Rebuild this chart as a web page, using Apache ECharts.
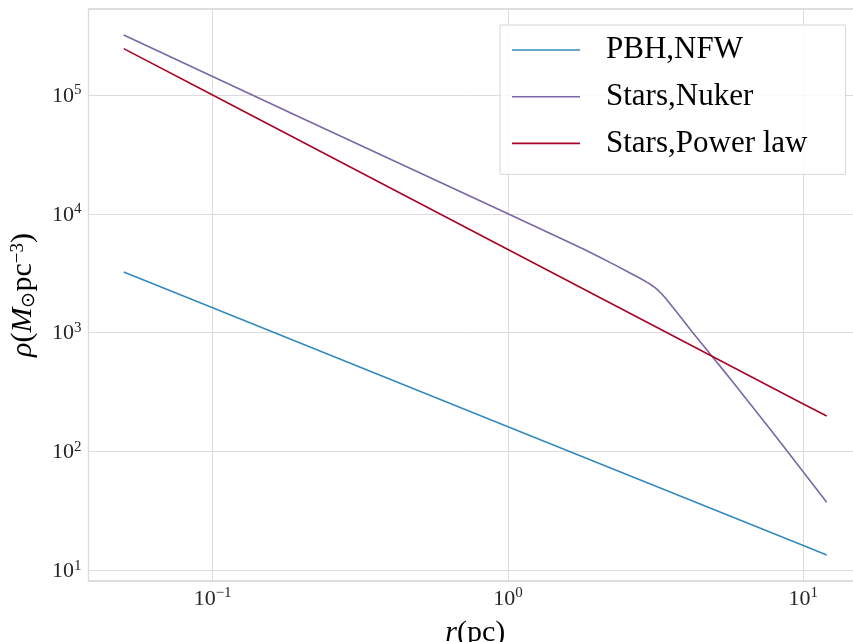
<!DOCTYPE html>
<html>
<head>
<meta charset="utf-8">
<script src="https://cdn.jsdelivr.net/npm/echarts@6/dist/echarts.min.js"></script>
<style>
html, body { margin: 0; padding: 0; background: #fff; }
#chart { width: 853px; height: 642px; }
</style>
</head>
<body>
<div id="chart"></div>
<script>
// series names and colours (bmh palette)
const seriesNames = ['PBH,NFW', 'Stars,Nuker', 'Stars,Power law'];
const seriesColors = ['#348ABD', '#7A68A6', '#A60628'];

// r (pc) and rho (Msun pc^-3)
const pbhR = [0.05, 0.1, 1, 10, 12];
const pbhRho = [3230, 1615, 161, 16.1, 13.4];

const nukerR = [0.05, 0.1, 0.2, 0.5, 1, 1.5, 1.8, 2.0, 2.3, 2.6, 2.8, 3.0, 3.1, 3.2, 3.3, 3.4, 3.65, 3.9, 4.2, 4.6, 5.0, 5.4, 5.8, 6.4, 7.0, 8.0, 8.8, 10, 12];
const nukerRho = [3.2e5, 1.43e5, 6.4e4, 2.23e4, 1.0e4, 6250, 5050, 4425, 3715, 3160, 2865, 2595, 2455, 2307, 2142, 1975, 1585, 1290, 1016, 769, 597, 471, 378, 277, 209, 137, 101, 67, 37.2];

const plawR = [0.05, 0.1, 1, 10, 12];
const plawRho = [2.46e5, 1.0e5, 5.0e3, 250, 198];

const SERIF = 'Liberation Serif';

function pairs(xs, ys) {
    return xs.map((x, i) => [x, ys[i]]);
}

function powLabel(v) {
    const e = Math.round(Math.log10(v));
    return '{b|10}{sup|' + String(e).replace('-', '\u2212') + '}';
}

const tickRich = {
    b: { fontFamily: SERIF, fontSize: 22, color: '#262626', verticalAlign: 'bottom', lineHeight: 24 },
    sup: { fontFamily: SERIF, fontSize: 15, verticalAlign: 'top', lineHeight: 24, padding: [0, 0, 12, 0], color: '#262626' }
};

const chart = echarts.init(document.getElementById('chart'));

const lines = [pairs(pbhR, pbhRho), pairs(nukerR, nukerRho), pairs(plawR, plawRho)];

chart.setOption({
    animation: false,
    backgroundColor: '#fff',
    grid: {
        left: 88.5, right: -9, top: 9, bottom: 61,
        outerBoundsMode: 'none',
        containLabel: false,
        show: true, borderColor: '#bdbdbd', borderWidth: 1.2, backgroundColor: 'transparent'
    },
    legend: {
        orient: 'vertical',
        left: 500, top: 25,
        padding: [8, 38, 14, 12],
        icon: 'rect',
        itemWidth: 68, itemHeight: 1.6, itemGap: 12.7,
        backgroundColor: 'rgba(255,255,255,0.85)',
        borderColor: '#d6d6d6', borderWidth: 1, borderRadius: 0,
        data: seriesNames,
        textStyle: { fontFamily: SERIF, fontSize: 31, color: '#000', lineHeight: 34, padding: [0, 0, 0, 21] }
    },
    xAxis: {
        type: 'log', logBase: 10,
        min: 0.038, max: 15.8,
        name: '{i|r}{n|(pc)}',
        nameLocation: 'middle', nameGap: 34,
        nameTextStyle: {
            rich: {
                i: { fontFamily: SERIF, fontStyle: 'italic', fontSize: 30, color: '#000' },
                n: { fontFamily: SERIF, fontSize: 30, color: '#000' }
            }
        },
        axisLine: { show: false },
        axisTick: { show: false },
        minorTick: { show: false },
        splitLine: { show: true, lineStyle: { color: '#dcdcdc', width: 1 } },
        axisLabel: {
            showMinLabel: false, showMaxLabel: false,
            margin: 5,
            formatter: powLabel,
            rich: tickRich
        }
    },
    yAxis: {
        type: 'log', logBase: 10,
        min: 8.09, max: 5.3e5,
        name: '{i|\u03C1}{n|(}{i|M}{sub|\u2299}{n|pc}{sup|\u22123}{n|)}',
        nameLocation: 'middle', nameGap: 50, nameRotate: 90,
        nameTextStyle: {
            rich: {
                i: { fontFamily: SERIF, fontStyle: 'italic', fontSize: 30, color: '#000' },
                n: { fontFamily: SERIF, fontSize: 30, color: '#000' },
                sub: { fontFamily: SERIF, fontSize: 19, color: '#000', verticalAlign: 'bottom', padding: [9, 0, 0, 0] },
                sup: { fontFamily: SERIF, fontSize: 19, color: '#000', verticalAlign: 'top', padding: [0, 0, 11, 0] }
            }
        },
        axisLine: { show: false },
        axisTick: { show: false },
        minorTick: { show: false },
        splitLine: { show: true, lineStyle: { color: '#dcdcdc', width: 1 } },
        axisLabel: {
            showMinLabel: false, showMaxLabel: false,
            margin: 7,
            formatter: powLabel,
            rich: tickRich
        }
    },
    series: seriesNames.map((name, i) => ({
        name: name,
        type: 'line',
        data: lines[i],
        symbol: 'none',
        smooth: false,
        color: seriesColors[i],
        lineStyle: { width: 1.6, color: seriesColors[i] }
    }))
});
</script>
</body>
</html>
